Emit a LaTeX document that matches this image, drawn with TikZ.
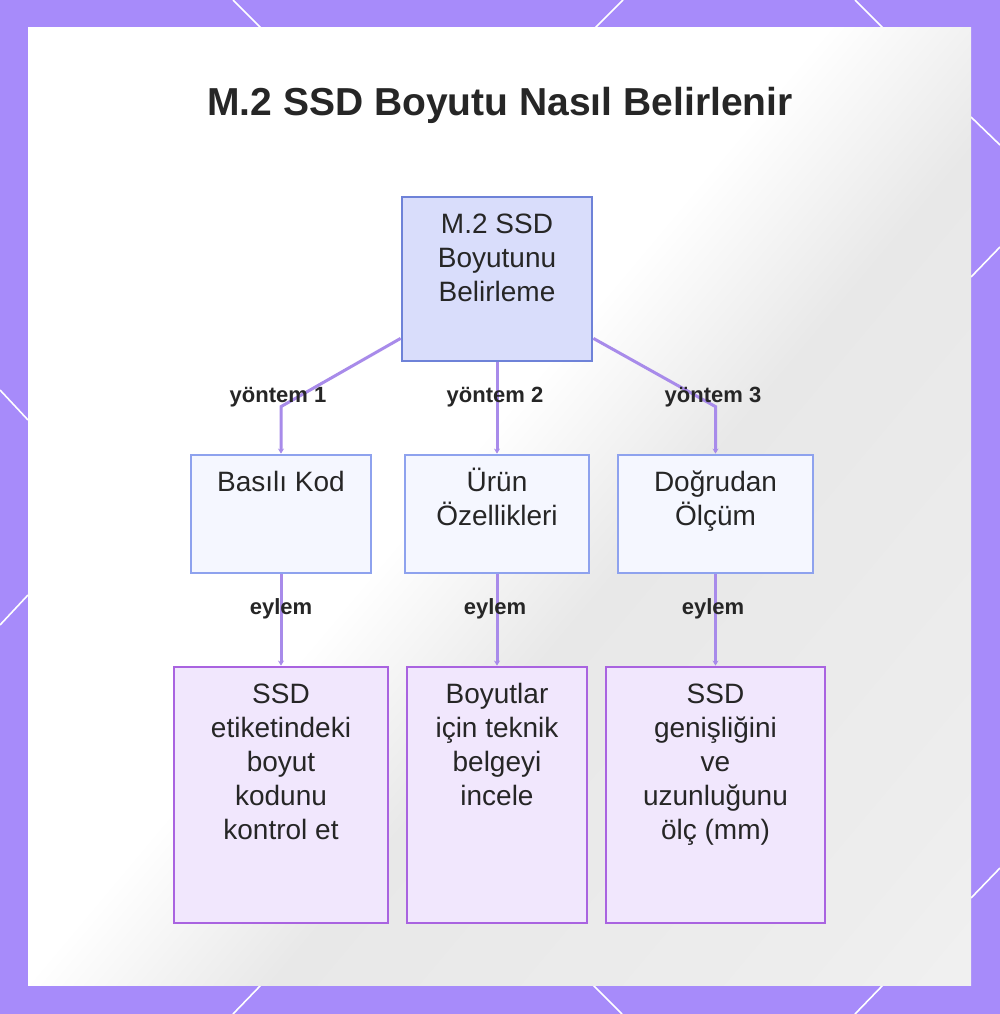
\documentclass[tikz,border=0pt]{standalone}
\usepackage{fontspec}
\setmainfont{Liberation Sans}
\usetikzlibrary{calc,arrows.meta}
\definecolor{frame}{HTML}{A78BFA}
\definecolor{topfill}{HTML}{D9DDFB}
\definecolor{topdraw}{HTML}{6E82D8}
\definecolor{midfill}{HTML}{F5F7FF}
\definecolor{middraw}{HTML}{8EA2EE}
\definecolor{lowfill}{HTML}{F1E7FD}
\definecolor{lowdraw}{HTML}{A963E0}
\definecolor{conncol}{HTML}{A88BEA}
\definecolor{txt}{HTML}{262626}
\pgfdeclarehorizontalshading{bgshade}{100bp}{color(0bp)=(white); color(47bp)=(white); color(57bp)=(black!9); color(78bp)=(black!7); color(100bp)=(black!3)}
\newcommand{\tbox}[3]{\parbox[c][#2][t]{#1}{\centering\fontsize{28pt}{34pt}\selectfont\rule{0pt}{36pt}#3}}
\tikzset{
  topbox/.style={draw=topdraw, fill=topfill, line width=2.8pt, inner sep=0pt, text=txt},
  midbox/.style={draw=middraw, fill=midfill, line width=2.8pt, inner sep=0pt, text=txt},
  lowbox/.style={draw=lowdraw, fill=lowfill, line width=2.8pt, inner sep=0pt, text=txt},
  conn/.style={draw=conncol, line width=3pt, -{Stealth[length=5pt,width=6pt]}},
  lbl/.style={font=\bfseries\fontsize{22pt}{26pt}\selectfont, text=txt, inner sep=0pt},
  deco/.style={draw=white, line width=1.6pt}
}
\begin{document}
\begin{tikzpicture}[x=1pt,y=-1pt]
\useasboundingbox (0,0) rectangle (1000,1014);
% frame
\fill[frame] (0,0) rectangle (1000,1014);
\draw[deco] (233,0) -- (261,28);
\draw[deco] (623,0) -- (595,28);
\draw[deco] (855,0) -- (883,28);
\draw[deco] (971,117) -- (1000,145);
\draw[deco] (1000,247) -- (971,277);
\draw[deco] (1000,868) -- (971,898);
\draw[deco] (0,390) -- (28,420);
\draw[deco] (28,595) -- (0,625);
\draw[deco] (261,985) -- (233,1014);
\draw[deco] (593,985) -- (622,1014);
\draw[deco] (883,985) -- (855,1014);
% panel
\fill[white] (28,28) rectangle (971,985);
\shade[shading=bgshade, shading angle=-40] (28,28) rectangle (971,985);
% title
\node[font=\bfseries\fontsize{39pt}{46pt}\selectfont, text=txt, inner sep=0pt] (title) at (500,105) {M.2 SSD Boyutu Nasıl Belirlenir};
% nodes
\node[topbox] (top) at (497,279) {\tbox{190pt}{164pt}{M.2 SSD\\Boyutunu\\Belirleme}};
\node[midbox] (m1) at (281,514) {\tbox{180pt}{118pt}{Basılı Kod}};
\node[midbox] (m2) at (497,514) {\tbox{184pt}{118pt}{Ürün\\Özellikleri}};
\node[midbox] (m3) at (715.5,514) {\tbox{195pt}{118pt}{Doğrudan\\Ölçüm}};
\node[lowbox] (l1) at (281,795) {\tbox{214pt}{256pt}{SSD\\etiketindeki\\boyut\\kodunu\\kontrol et}};
\node[lowbox] (l2) at (497,795) {\tbox{180pt}{256pt}{Boyutlar\\için teknik\\belgeyi\\incele}};
\node[lowbox] (l3) at (715.5,795) {\tbox{219pt}{256pt}{SSD\\genişliğini\\ve\\uzunluğunu\\ölç (mm)}};
% connectors
\draw[conn] ($(top.south west)+(0,-24)$) -- ($(m1.north)+(0,-47)$) -- (m1.north);
\draw[conn] (top.south) -- (m2.north);
\draw[conn] ($(top.south east)+(0,-24)$) -- ($(m3.north)+(0,-47)$) -- (m3.north);
\draw[conn] (m1.south) -- (l1.north);
\draw[conn] (m2.south) -- (l2.north);
\draw[conn] (m3.south) -- (l3.north);
% labels
\node[lbl] (y1) at (278,397) {yöntem 1};
\node[lbl] (y2) at (495,397) {yöntem 2};
\node[lbl] (y3) at (713,397) {yöntem 3};
\node[lbl] (e1) at (281,609) {eylem};
\node[lbl] (e2) at (495,609) {eylem};
\node[lbl] (e3) at (713,609) {eylem};
\end{tikzpicture}
\end{document}
